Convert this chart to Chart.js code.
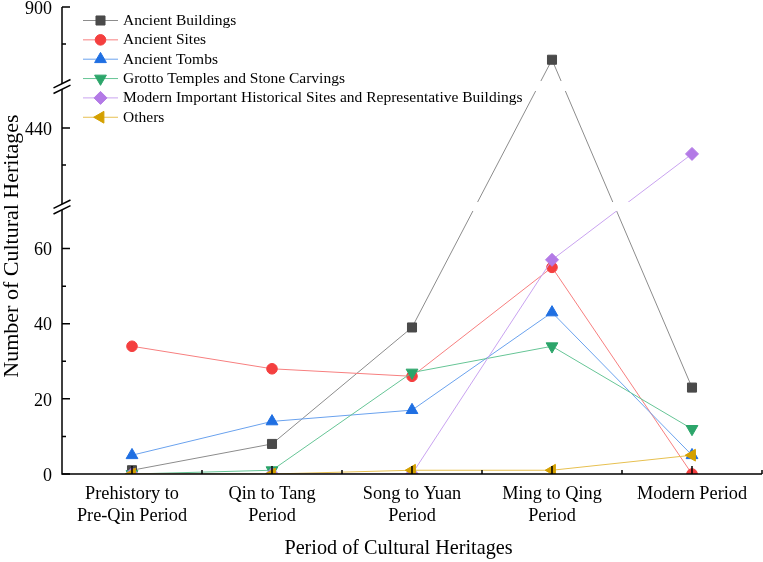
<!DOCTYPE html>
<html>
<head>
<meta charset="utf-8">
<title>Cultural Heritages by Period</title>
<style>
  html, body { margin: 0; padding: 0; background: #fff; }
</style>
</head>
<body>
<canvas id="heritageChart" width="763" height="562"></canvas>
<script src="https://cdn.jsdelivr.net/npm/chart.js"></script>
<script>
// data
const periods = [['Prehistory to', 'Pre-Qin Period'], ['Qin to Tang', 'Period'], ['Song to Yuan', 'Period'], ['Ming to Qing', 'Period'], 'Modern Period'];
const ancientBuildings = [1, 8, 39, 843, 23];
const ancientSites = [34, 28, 26, 55, 0];
const ancientTombs = [5, 14, 17, 43, 5];
const grottoTemples = [0, 1, 27, 34, 12];
const modernSites = [0, 0, 0, 57, 412];
const others = [0, 0, 1, 1, 5];
const yTickLabels = [0, 20, 40, 60, 440, 900];
const yMinorTicks = [10, 30, 50, 400, 860];
const xTitle = 'Period of Cultural Heritages';
const yTitle = 'Number of Cultural Heritages';

// broken y axis: each piece maps a value range onto a share of the axis height
const yPieces = [
  { from: 0, to: 70, start: 0, end: 0.5632 },
  { from: 360, to: 480, start: 0.5824, end: 0.8201 },
  { from: 820, to: 900, start: 0.8415, end: 1 }
];

const serif = 'Liberation Serif, Times New Roman, serif';

class BrokenLinearScale extends Chart.LinearScale {
  buildTicks() {
    return yTickLabels.map(v => ({ value: v }));
  }
  getPixelForValue(value) {
    const h = this.bottom - this.top;
    let f = 0;
    for (const p of yPieces) {
      if (value <= p.to) {
        f = value < p.from ? p.start : p.start + (value - p.from) / (p.to - p.from) * (p.end - p.start);
        return this.bottom - f * h;
      }
      f = p.end;
    }
    return this.bottom - f * h;
  }
  getValueForPixel(pixel) {
    const f = (this.bottom - pixel) / (this.bottom - this.top);
    for (const p of yPieces) {
      if (f <= p.end) {
        if (f < p.start) return p.from;
        return p.from + (f - p.start) / (p.end - p.start) * (p.to - p.from);
      }
    }
    return yPieces[yPieces.length - 1].to;
  }
}
BrokenLinearScale.id = 'brokenLinear';
BrokenLinearScale.defaults = Chart.LinearScale.defaults;
Chart.register(BrokenLinearScale);

function series(label, data, line, fill, style, radius, rotation) {
  return {
    label: label,
    data: data,
    borderColor: line,
    borderWidth: 1,
    pointStyle: style,
    pointRadius: radius,
    pointRotation: rotation,
    pointBackgroundColor: fill,
    pointBorderColor: fill,
    pointBorderWidth: 1,
    tension: 0,
    clip: 0
  };
}

const datasets = [
  series('Ancient Buildings', ancientBuildings, '#8c8c8c', '#4a4a4a', 'rect', 6.4, 0),
  series('Ancient Sites', ancientSites, '#f77f7f', '#f43f3f', 'circle', 5.3, 0),
  series('Ancient Tombs', ancientTombs, '#6aa2ee', '#1f6fe2', 'triangle', 6.8, 0),
  series('Grotto Temples and Stone Carvings', grottoTemples, '#66c596', '#2ca56a', 'triangle', 6.8, 180),
  series('Modern Important Historical Sites and Representative Buildings', modernSites, '#c9a3f0', '#b37ae6', 'rectRot', 6.5, 0),
  series('Others', others, '#e7c050', '#d4a000', 'triangle', 6.8, 270)
];
// later series sit on top, like the original
datasets.forEach((d, i) => { d.order = datasets.length - i; });

const originAxes = {
  id: 'originAxes',
  afterDatasetsDraw(chart) {
    const { ctx, chartArea: a, scales: { x, y } } = chart;
    const h = y.bottom - y.top;
    ctx.save();
    // white gaps where lines pass through the breaks
    ctx.fillStyle = '#fff';
    for (let i = 0; i < yPieces.length - 1; i++) {
      const lo = y.bottom - yPieces[i].end * h;
      const hi = y.bottom - yPieces[i + 1].start * h;
      ctx.fillRect(a.left + 1, hi, a.right - a.left, lo - hi);
    }
    // axis lines
    ctx.strokeStyle = '#000';
    ctx.lineWidth = 1.5;
    ctx.beginPath();
    ctx.moveTo(a.left, a.top);
    ctx.lineTo(a.left, a.bottom);
    ctx.lineTo(a.right, a.bottom);
    ctx.stroke();
    // inward ticks
    ctx.beginPath();
    yTickLabels.forEach(v => { const p = y.getPixelForValue(v); ctx.moveTo(a.left, p); ctx.lineTo(a.left + 8, p); });
    yMinorTicks.forEach(v => { const p = y.getPixelForValue(v); ctx.moveTo(a.left, p); ctx.lineTo(a.left + 4, p); });
    const step = x.getPixelForValue(1) - x.getPixelForValue(0);
    periods.forEach((_, i) => {
      const p = x.getPixelForValue(i);
      ctx.moveTo(p, a.bottom); ctx.lineTo(p, a.bottom - 8);
      ctx.moveTo(p + step / 2, a.bottom); ctx.lineTo(p + step / 2, a.bottom - 4);
    });
    ctx.stroke();
    // break marks on the y axis
    for (let i = 0; i < yPieces.length - 1; i++) {
      const cy = y.bottom - (yPieces[i].end + yPieces[i + 1].start) / 2 * h + 0.5;
      const cx = a.left;
      ctx.fillStyle = '#fff';
      ctx.beginPath();
      ctx.moveTo(cx - 8.5, cy + 7); ctx.lineTo(cx + 8.5, cy - 1.4);
      ctx.lineTo(cx + 8.5, cy - 7); ctx.lineTo(cx - 8.5, cy + 1.4);
      ctx.closePath();
      ctx.fill();
      ctx.beginPath();
      ctx.moveTo(cx - 8.5, cy + 7); ctx.lineTo(cx + 8.5, cy - 1.4);
      ctx.moveTo(cx - 8.5, cy + 1.4); ctx.lineTo(cx + 8.5, cy - 7);
      ctx.stroke();
    }
    ctx.restore();
  },
  afterDraw(chart) {
    const ctx = chart.ctx;
    ctx.save();
    // axis titles, placed where Origin put them
    ctx.fillStyle = '#000';
    ctx.textAlign = 'center';
    ctx.textBaseline = 'middle';
    ctx.font = '20.2px ' + serif;
    ctx.fillText(xTitle, 398.5, 549);
    ctx.save();
    ctx.translate(12.5, 246);
    ctx.rotate(-Math.PI / 2);
    ctx.font = '22px ' + serif;
    ctx.fillText(yTitle, 0, 0);
    ctx.restore();

    // legend in the Origin manner: short line through the marker
    const drawPoint = Chart.helpers && Chart.helpers.drawPoint;
    ctx.font = '15.5px ' + serif;
    ctx.textAlign = 'left';
    chart.data.datasets.forEach((d, i) => {
      const ly = 20.5 + i * 19.35;
      ctx.strokeStyle = d.borderColor;
      ctx.lineWidth = 1;
      ctx.beginPath();
      ctx.moveTo(83, ly); ctx.lineTo(118, ly);
      ctx.stroke();
      ctx.fillStyle = d.pointBackgroundColor;
      ctx.strokeStyle = d.pointBorderColor;
      if (drawPoint) {
        drawPoint(ctx, { pointStyle: d.pointStyle, radius: d.pointRadius, rotation: d.pointRotation, borderWidth: 1 }, 100.5, ly);
      } else {
        ctx.beginPath(); ctx.arc(100.5, ly, 5, 0, Math.PI * 2); ctx.fill();
      }
      ctx.fillStyle = '#000';
      ctx.fillText(d.label, 123, ly + 0.5);
    });
    ctx.restore();
  }
};

new Chart(document.getElementById('heritageChart'), {
  type: 'line',
  data: { labels: periods, datasets: datasets },
  options: {
    responsive: false,
    animation: false,
    events: [],
    layout: { padding: { top: 7, right: 1, left: 0, bottom: 0 }, autoPadding: false },
    plugins: { legend: { display: false }, tooltip: { enabled: false } },
    scales: {
      x: {
        type: 'category',
        offset: true,
        grid: { display: false, drawTicks: false },
        border: { display: false },
        ticks: { font: { family: serif, size: 18.3 }, color: '#000', padding: 9.5, maxRotation: 0, autoSkip: false },
        afterFit: s => { s.height = 88; s.paddingLeft = 0; s.paddingRight = 0; }
      },
      y: {
        type: 'brokenLinear',
        min: 0,
        max: 900,
        grid: { display: false, drawTicks: false },
        border: { display: false },
        ticks: { font: { family: serif, size: 18 }, color: '#000', padding: 10, labelOffset: 2 },
        afterFit: s => { s.width = 62; s.paddingTop = 0; s.paddingBottom = 0; }
      }
    }
  },
  plugins: [originAxes]
});
</script>
</body>
</html>
